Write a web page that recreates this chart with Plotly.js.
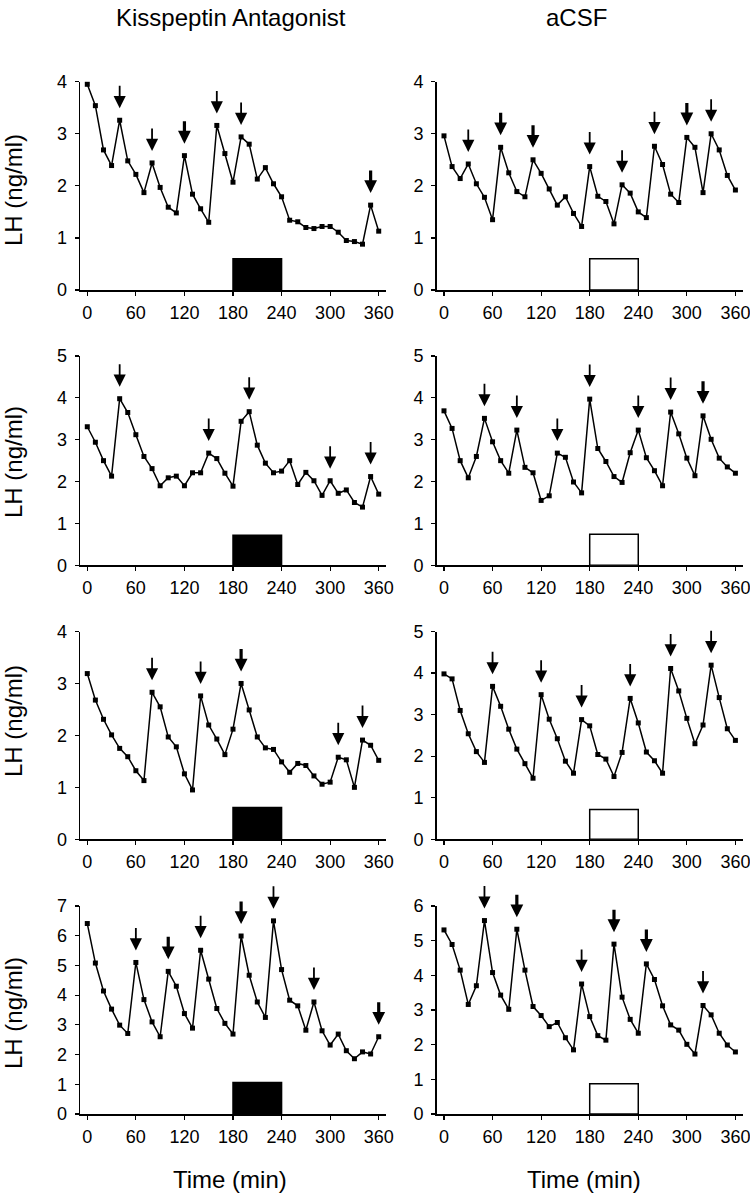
<!DOCTYPE html>
<html>
<head>
<meta charset="utf-8">
<script src="https://cdn.plot.ly/plotly-3.0.1.min.js"></script>
<style>html,body{margin:0;padding:0;background:#fff;}#chart{width:750px;height:1199px;}</style>
</head>
<body>
<div id="chart"></div>
<script>
// Sampling times (min)
const times = [0,10,20,30,40,50,60,70,80,90,100,110,120,130,140,150,160,170,180,190,200,210,220,230,240,250,260,270,280,290,300,310,320,330,340,350,360];

// LH (ng/ml) per animal: Kisspeptin antagonist (left) and aCSF (right)
const kp1 = [3.95,3.54,2.69,2.39,3.26,2.48,2.22,1.87,2.44,1.97,1.59,1.48,2.58,1.84,1.56,1.30,3.16,2.62,2.07,2.94,2.80,2.13,2.35,2.04,1.79,1.34,1.31,1.20,1.18,1.22,1.22,1.11,0.95,0.93,0.88,1.63,1.13];
const ac1 = [2.96,2.37,2.14,2.42,2.04,1.78,1.35,2.74,2.25,1.89,1.79,2.50,2.24,1.94,1.63,1.79,1.47,1.22,2.37,1.80,1.70,1.27,2.02,1.86,1.50,1.39,2.76,2.41,1.84,1.68,2.93,2.74,1.87,3.00,2.69,2.20,1.92];
const kp2 = [3.31,2.94,2.50,2.13,3.98,3.65,3.12,2.60,2.31,1.90,2.09,2.13,1.90,2.21,2.21,2.68,2.55,2.20,1.89,3.44,3.67,2.87,2.44,2.21,2.25,2.50,1.93,2.22,2.02,1.67,2.02,1.72,1.80,1.50,1.39,2.12,1.70];
const ac2 = [3.69,3.27,2.50,2.09,2.60,3.51,2.95,2.50,2.20,3.23,2.34,2.21,1.55,1.66,2.68,2.58,1.99,1.73,3.97,2.79,2.48,2.12,1.98,2.69,3.23,2.57,2.26,1.90,3.66,3.14,2.56,2.14,3.57,3.01,2.56,2.35,2.20];
const kp3 = [3.19,2.68,2.31,2.01,1.75,1.59,1.32,1.13,2.83,2.55,1.97,1.78,1.26,0.95,2.76,2.20,1.93,1.63,2.12,3.00,2.49,1.97,1.76,1.73,1.49,1.29,1.46,1.42,1.22,1.06,1.10,1.58,1.53,1.00,1.91,1.81,1.52];
const ac3 = [3.98,3.86,3.10,2.54,2.11,1.85,3.68,3.20,2.65,2.17,1.82,1.47,3.48,2.89,2.42,1.88,1.59,2.88,2.73,2.04,1.93,1.51,2.09,3.39,2.80,2.10,1.89,1.59,4.11,3.57,2.91,2.30,2.75,4.19,3.41,2.66,2.38];
const kp4 = [6.41,5.08,4.14,3.53,2.99,2.71,5.10,3.85,3.10,2.60,4.80,4.30,3.38,2.89,5.51,4.54,3.55,3.05,2.69,5.99,4.67,3.77,3.25,6.50,4.86,3.83,3.64,2.82,3.77,2.80,2.32,2.69,2.13,1.86,2.09,2.02,2.60];
const ac4 = [5.31,4.89,4.15,3.16,3.70,5.58,4.08,3.43,3.02,5.33,4.15,3.10,2.84,2.52,2.64,2.20,1.85,3.75,2.81,2.26,2.13,4.90,3.37,2.73,2.33,4.33,3.88,3.12,2.57,2.42,2.01,1.73,3.13,2.86,2.33,1.99,1.79];

// Pulse arrows (times) and whether drawn bold
const arrows1L = [40,80,120,160,190,350];      const bold1L = [0,0,1,0,0,1];
const arrows1R = [30,70,110,180,220,260,300,330]; const bold1R = [0,1,1,0,0,0,1,0];
const arrows2L = [40,150,200,300,350];         const bold2L = [0,0,0,0,0];
const arrows2R = [50,90,140,180,240,280,320];  const bold2R = [0,0,0,0,0,0,1];
const arrows3L = [80,140,190,310,340];         const bold3L = [0,0,1,0,0];
const arrows3R = [60,120,170,230,280,330];     const bold3R = [0,0,0,0,0,0];
const arrows4L = [60,100,140,190,230,280,360]; const bold4L = [0,1,0,1,0,0,1];
const arrows4R = [50,90,170,210,250,320];      const bold4R = [0,1,0,1,1,0];

// Treatment period (min) and drawn bar height (ng/ml) per panel
const treatStart = 180, treatEnd = 240;
const barHeights = [0.6, 0.6, 0.72, 0.74, 0.61, 0.72, 1.06, 0.87];

// Y-axis maxima per panel
const yMax = [4, 4, 5, 5, 4, 5, 7, 6];
const xTicks = [0,60,120,180,240,300,360];

const colTitles = ['Kisspeptin Antagonist', 'aCSF'];
const yTitle = 'LH (ng/ml)';
const xTitle = 'Time (min)';

const series = [kp1, ac1, kp2, ac2, kp3, ac3, kp4, ac4];
const arrowSets = [arrows1L, arrows1R, arrows2L, arrows2R, arrows3L, arrows3R, arrows4L, arrows4R];
const boldSets = [bold1L, bold1R, bold2L, bold2R, bold3L, bold3R, bold4L, bold4R];

const W = 750, H = 1199;
const colPx = [[80, 386], [436.7, 742.7]];
const rowPx = [[81.7, 290], [356, 565.3], [631.5, 839.3], [906, 1114]];
const yTitlePx = [190, 462, 721, 1013];
const FONT = '"Liberation Sans", Arial, Helvetica, sans-serif';

const traces = [];
const layout = {
  width: W, height: H,
  margin: {l: 0, r: 0, t: 0, b: 0},
  paper_bgcolor: '#fff', plot_bgcolor: '#fff',
  showlegend: false,
  font: {family: FONT, color: '#000', size: 18},
  shapes: [], annotations: []
};

for (let i = 0; i < 8; i++) {
  const r = Math.floor(i / 2), c = i % 2;
  const n = i + 1;
  const xa = n === 1 ? 'x' : 'x' + n;
  const ya = n === 1 ? 'y' : 'y' + n;
  traces.push({
    x: times, y: series[i], xaxis: xa, yaxis: ya,
    type: 'scatter', mode: 'lines+markers',
    line: {color: '#000', width: 1.5},
    marker: {color: '#000', size: 5, symbol: 'square'},
    cliponaxis: false, hoverinfo: 'skip'
  });
  const axisCommon = {
    showgrid: false, zeroline: false, showline: true, linecolor: '#000', linewidth: 1.5,
    ticks: 'outside', ticklen: 4, tickwidth: 1.2, tickcolor: '#000',
    tickfont: {family: FONT, size: 18, color: '#000'}, automargin: false, fixedrange: true,
    ticklabeloverflow: 'allow'
  };
  layout['xaxis' + (n === 1 ? '' : n)] = Object.assign({}, axisCommon, {
    domain: [colPx[c][0] / W, colPx[c][1] / W],
    range: [-9, 369], tickvals: xTicks, ticktext: xTicks.map(String),
    anchor: ya, ticklabelstandoff: 2
  });
  layout['yaxis' + (n === 1 ? '' : n)] = Object.assign({}, axisCommon, {
    domain: [1 - rowPx[r][1] / H, 1 - rowPx[r][0] / H],
    range: [0, yMax[i]], dtick: 1, tick0: 0, anchor: xa, ticklabelstandoff: 4
  });
  // treatment bar
  layout.shapes.push({
    type: 'rect', xref: xa, yref: ya,
    x0: treatStart, x1: treatEnd, y0: 0, y1: barHeights[i],
    fillcolor: c === 0 ? '#000' : '#fff', line: {color: '#000', width: 1.5}
  });
  // pulse arrows
  arrowSets[i].forEach((t, k) => {
    const v = series[i][times.indexOf(t)];
    const b = boldSets[i][k];
    layout.annotations.push({
      xref: xa, yref: ya, x: t, y: v, text: '', showarrow: true,
      ax: 0, ay: -36, standoff: 12, arrowhead: 2,
      arrowwidth: b ? 3.2 : 1.8, arrowsize: b ? 0.8 : 1.35, arrowcolor: '#000'
    });
  });
  if (c === 0) {
    layout.annotations.push({
      xref: 'paper', yref: 'paper', x: 13 / W, y: 1 - yTitlePx[r] / H,
      text: yTitle, showarrow: false, textangle: -90,
      font: {family: FONT, size: 24, color: '#000'}, xanchor: 'center', yanchor: 'middle'
    });
  }
}

layout.annotations.push({
  xref: 'paper', yref: 'paper', x: 231 / W, y: 1 - 18 / H, text: colTitles[0], showarrow: false,
  font: {family: FONT, size: 24, color: '#000'}, xanchor: 'center', yanchor: 'middle'
});
layout.annotations.push({
  xref: 'paper', yref: 'paper', x: 576 / W, y: 1 - 18 / H, text: colTitles[1], showarrow: false,
  font: {family: FONT, size: 24, color: '#000'}, xanchor: 'center', yanchor: 'middle'
});
[229.5, 584].forEach(px => {
  layout.annotations.push({
    xref: 'paper', yref: 'paper', x: px / W, y: 1 - 1179 / H, text: xTitle, showarrow: false,
    font: {family: FONT, size: 24, color: '#000'}, xanchor: 'center', yanchor: 'middle'
  });
});

Plotly.newPlot('chart', traces, layout, {staticPlot: true, displayModeBar: false});
</script>
</body>
</html>
